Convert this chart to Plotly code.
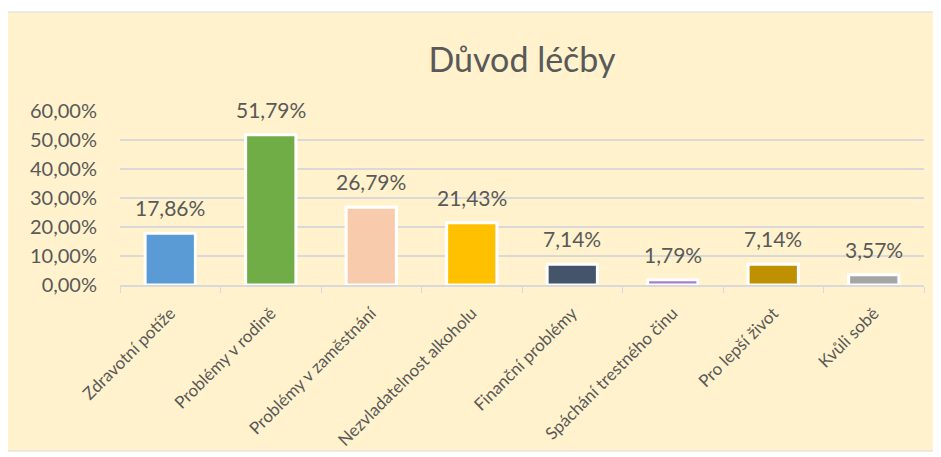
import plotly.graph_objects as go

categories = ["Zdravotní potíže", "Problémy v rodině", "Problémy v zaměstnání",
              "Nezvladatelnost alkoholu", "Finanční problémy", "Spáchání trestného činu",
              "Pro lepší život", "Kvůli sobě"]
values = [0.1786, 0.5179, 0.2679, 0.2143, 0.0714, 0.0179, 0.0714, 0.0357]
labels = ["17,86%", "51,79%", "26,79%", "21,43%", "7,14%", "1,79%", "7,14%", "3,57%"]
colors = ["#5B9BD5", "#70AD47", "#F8CBAD", "#FFC000", "#44546A", "#A97FD0", "#BF9000", "#A5A5A5"]

OFF = 8  # page body margin
W, H = 941 - OFF, 457 - OFF
ml, mt = 120 - OFF, 111 - OFF
pw, ph = 804, 174
mr, mb = W - ml - pw, H - mt - ph
txt = "#595959"
font = "Lato, 'Open Sans', sans-serif"

fig = go.Figure(go.Bar(
    x=categories, y=values,
    marker=dict(color=colors, line=dict(color="white", width=3)),
    hoverinfo="skip",
))

for c, v, l in zip(categories, values, labels):
    fig.add_annotation(x=c, y=v, text=l, showarrow=False, yanchor="bottom",
                       yshift=11, font=dict(size=21, color=txt, family=font))

def px(x):
    return (x - OFF - ml) / pw

def py(y):
    return (H + OFF - mb - y) / ph

fig.add_shape(type="rect", xref="paper", yref="paper",
              x0=px(5), x1=px(940), y0=py(451), y1=py(12),
              fillcolor="#FFF2CC", line=dict(color="#D9D9D9", width=1), layer="below")

fig.update_layout(
    width=W, height=H,
    margin=dict(l=ml, r=mr, t=mt, b=mb, autoexpand=False),
    paper_bgcolor="white", plot_bgcolor="rgba(0,0,0,0)",
    separators=", ",
    bargap=0.5,
    showlegend=False,
    title=dict(text="Důvod léčby", x=0.5, xref="paper", xanchor="center",
               y=1 - (60 - OFF) / H, yref="container", yanchor="middle",
               font=dict(size=34, color=txt, family=font)),
    font=dict(family=font, color=txt),
    xaxis=dict(showline=True, linecolor="#D9D9D9", linewidth=1.5,
               ticks="outside", tickson="boundaries", ticklen=6, tickcolor="#D9D9D9",
               tickangle=-45, tickfont=dict(size=17, color=txt, family=font),
               showgrid=False, ticklabelstandoff=10),
    yaxis=dict(range=[0, 0.6], dtick=0.1, tickformat=".2%", showline=False,
               gridcolor="#D9D9D9", gridwidth=1.5, zeroline=False,
               tickfont=dict(size=20, color=txt, family=font), ticklen=0,
               ticks="", ticklabelstandoff=22),
)

fig.write_html("out.html")
